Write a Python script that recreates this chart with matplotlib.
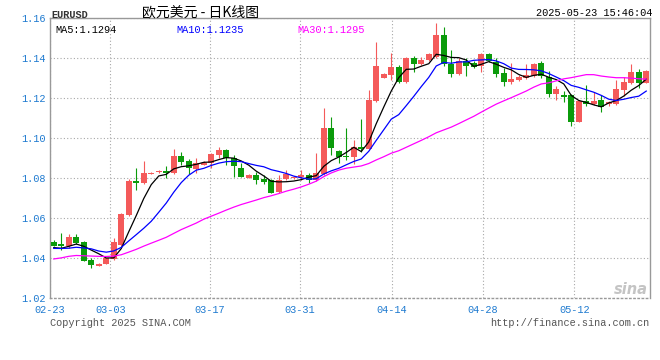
import matplotlib
matplotlib.use('Agg')
import matplotlib.pyplot as plt
import numpy as np
import pandas as pd

symbol = 'EURUSD'
title = '欧元美元 - 日K线图'
timestamp = '2025-05-23 15:46:04'
copyright_text = 'Copyright 2025 SINA.COM'
url_text = 'http://finance.sina.com.cn'

# closes of the sessions before the first visible candle (needed to warm up the MAs)
prev_close = [1.0300, 1.0272, 1.0350, 1.0431, 1.0408, 1.0414, 1.0420, 1.0420, 1.0421, 1.0390,
              1.0362, 1.0342, 1.0379, 1.0404, 1.0381, 1.0329, 1.0307, 1.0362, 1.0384, 1.0300,
              1.0465, 1.0492, 1.0430, 1.0420, 1.0413, 1.0480, 1.0455, 1.0420, 1.0443]

opens = [1.0482, 1.0472, 1.0462, 1.0504, 1.0480, 1.0390, 1.0362, 1.0372, 1.0395, 1.0465,
         1.0615, 1.0785, 1.0777, 1.0822, 1.0829, 1.0837, 1.0825, 1.0910, 1.0885, 1.0847,
         1.0867, 1.0874, 1.0915, 1.0940, 1.0899, 1.0852, 1.0802, 1.0815, 1.0794, 1.0790,
         1.0732, 1.0794, 1.0799, 1.0804, 1.0815, 1.0790, 1.0820, 1.1052, 1.0935, 1.0910,
         1.0907, 1.0957, 1.0947, 1.1187, 1.1302, 1.1315, 1.1357, 1.1279, 1.1399, 1.1369,
         1.1390, 1.1407, 1.1515, 1.1369, 1.1320, 1.1387, 1.1374, 1.1362, 1.1420, 1.1382,
         1.1327, 1.1282, 1.1290, 1.1299, 1.1312, 1.1375, 1.1307, 1.1220, 1.1215, 1.1215,
         1.1082, 1.1185, 1.1170, 1.1190, 1.1169, 1.1169, 1.1240, 1.1274, 1.1332, 1.1277]

closes = [1.0462, 1.0462, 1.0505, 1.0477, 1.0387, 1.0367, 1.0370, 1.0399, 1.0480, 1.0620,
          1.0787, 1.0775, 1.0825, 1.0827, 1.0837, 1.0827, 1.0912, 1.0880, 1.0849, 1.0874,
          1.0877, 1.0920, 1.0940, 1.0899, 1.0860, 1.0807, 1.0815, 1.0790, 1.0780, 1.0727,
          1.0790, 1.0820, 1.0807, 1.0815, 1.0790, 1.0827, 1.1052, 1.0950, 1.0905, 1.0904,
          1.0957, 1.0945, 1.1190, 1.1362, 1.1320, 1.1357, 1.1279, 1.1399, 1.1369, 1.1390,
          1.1420, 1.1515, 1.1369, 1.1320, 1.1385, 1.1360, 1.1357, 1.1420, 1.1387, 1.1320,
          1.1282, 1.1295, 1.1304, 1.1315, 1.1370, 1.1310, 1.1220, 1.1245, 1.1207, 1.1082,
          1.1185, 1.1170, 1.1185, 1.1157, 1.1179, 1.1245, 1.1282, 1.1332, 1.1274, 1.1337]

highs = [1.0489, 1.0524, 1.0519, 1.0520, 1.0484, 1.0402, 1.0373, 1.0402, 1.0499, 1.0624,
         1.0795, 1.0849, 1.0885, 1.0829, 1.0839, 1.0860, 1.0945, 1.0932, 1.0894, 1.0899,
         1.0885, 1.0924, 1.0957, 1.0944, 1.0915, 1.0874, 1.0818, 1.0832, 1.0815, 1.0795,
         1.0815, 1.0840, 1.0810, 1.0840, 1.0827, 1.0924, 1.1149, 1.1107, 1.0940, 1.1052,
         1.0990, 1.1095, 1.1240, 1.1479, 1.1324, 1.1424, 1.1365, 1.1407, 1.1410, 1.1404,
         1.1427, 1.1577, 1.1557, 1.1440, 1.1399, 1.1399, 1.1385, 1.1424, 1.1424, 1.1399,
         1.1349, 1.1377, 1.1315, 1.1369, 1.1377, 1.1385, 1.1337, 1.1262, 1.1235, 1.1219,
         1.1188, 1.1265, 1.1232, 1.1215, 1.1185, 1.1290, 1.1307, 1.1370, 1.1345, 1.1340]

lows = [1.0459, 1.0442, 1.0449, 1.0472, 1.0384, 1.0352, 1.0358, 1.0370, 1.0392, 1.0460,
        1.0610, 1.0740, 1.0772, 1.0819, 1.0826, 1.0802, 1.0822, 1.0865, 1.0819, 1.0824,
        1.0865, 1.0849, 1.0899, 1.0865, 1.0807, 1.0805, 1.0798, 1.0770, 1.0770, 1.0724,
        1.0724, 1.0790, 1.0795, 1.0790, 1.0774, 1.0785, 1.0813, 1.0915, 1.0874, 1.0890,
        1.0872, 1.0930, 1.0945, 1.1182, 1.1299, 1.1290, 1.1274, 1.1274, 1.1332, 1.1365,
        1.1387, 1.1399, 1.1362, 1.1307, 1.1315, 1.1310, 1.1352, 1.1329, 1.1382, 1.1307,
        1.1260, 1.1270, 1.1287, 1.1295, 1.1307, 1.1300, 1.1207, 1.1190, 1.1182, 1.1062,
        1.1080, 1.1162, 1.1165, 1.1129, 1.1162, 1.1165, 1.1212, 1.1270, 1.1252, 1.1274]

date_labels = ['02-23', '03-03', '03-17', '03-31', '04-14', '04-28', '05-12']
y_ticks = [1.02, 1.04, 1.06, 1.08, 1.10, 1.12, 1.14, 1.16]
ma_periods = [5, 10, 30]
ma_last_text = ['1.1294', '1.1235', '1.1295']

# ---------------------------------------------------------------- styling
W, H = 660, 360
RED = '#f45a5a'
GREEN = '#0b9b0b'
BLUE_TXT = '#1e7ad0'
MA_COLORS = ['#000000', '#0000ff', '#ff00ff']
GRID = '#a8a8a8'
MONO = ['Liberation Mono', 'DejaVu Sans Mono']

fig = plt.figure(figsize=(W / 100, H / 100), dpi=100)
fig.patch.set_facecolor('white')
L, R, T, B = 50, 650, 18, 298
ax = fig.add_axes([L / W, 1 - B / H, (R - L) / W, (B - T) / H])

n = len(closes)
x = np.arange(n)
o = np.array(opens); c = np.array(closes); hi = np.array(highs); lo = np.array(lows)
up = c >= o
cols = np.where(up, RED, GREEN)

# wicks
ax.vlines(x, lo, hi, colors=cols, linewidth=0.8, zorder=2)
# bodies
body_bottom = np.minimum(o, c)
body_h = np.maximum(np.abs(c - o), 0.0004)
ax.bar(x, body_h, bottom=body_bottom, width=0.8, color=cols, linewidth=0, zorder=3)

# moving averages
allc = pd.Series(prev_close + closes)
for p, col in zip(ma_periods, MA_COLORS):
    ma = allc.rolling(p).mean().iloc[-n:].values
    ax.plot(x, ma, color=col, linewidth=0.9, zorder=4)

ax.set_xlim(-0.5, n - 0.5)
ax.set_ylim(y_ticks[0], y_ticks[-1])

# ticks
date_pos = [-0.5, 7.54, 20.77, 32.83, 45.06, 57.19, 69.43]
ax.set_xticks(date_pos)
ax.set_xticklabels(date_labels, family=MONO, fontsize=7.4, color=BLUE_TXT)
ax.set_yticks(y_ticks)
ax.set_yticklabels(['%.2f' % v for v in y_ticks], family=MONO, fontsize=7.4, color=BLUE_TXT)
ax.tick_params(axis='both', length=0)
ax.tick_params(axis='y', pad=3)
ax.tick_params(axis='x', pad=5)

ax.set_axisbelow(True)
ax.grid(True, color=GRID, linestyle=(0, (1, 2)), linewidth=0.8)

for s in ['left', 'right', 'top']:
    ax.spines[s].set_color('#999999')
    ax.spines[s].set_linewidth(1.0)
ax.spines['bottom'].set_color('#999999')
ax.spines['bottom'].set_linestyle((0, (1, 2)))
ax.spines['bottom'].set_linewidth(1.0)

def fx(px):
    return px / W

def fy(py):
    return 1 - py / H

# header texts
fig.text(fx(51), fy(15), symbol, family=MONO, fontsize=7.4, color='#333333',
         fontweight='bold', va='center', ha='left')
fig.text(fx(201), fy(12.5), title, family=['Noto Sans CJK SC', 'DejaVu Sans'],
         fontsize=10, color='#000000', va='center', ha='center')
fig.text(fx(652), fy(13), timestamp, family=MONO, fontsize=7.4, color='#000000',
         va='center', ha='right')

# MA legend
for p, col, val, px in zip(ma_periods, MA_COLORS, ma_last_text, [55, 176, 297]):
    fig.text(fx(px), fy(30), 'MA%d:%s' % (p, val), family=MONO, fontsize=7.4,
             color=col, va='center', ha='left')

# footer
fig.text(fx(50), fy(323), copyright_text, family=MONO, fontsize=7.4, color='#555555',
         va='center', ha='left')
fig.text(fx(649), fy(323), url_text, family=MONO, fontsize=7.4, color='#555555',
         va='center', ha='right')

# sina watermark
fig.text(fx(631), fy(290), 'sina', family=['DejaVu Sans'], fontsize=10.5,
         fontstyle='italic', fontweight='bold', color='#c4c4c4', va='center', ha='center')

fig.savefig('out.png', dpi=100, facecolor='white')
